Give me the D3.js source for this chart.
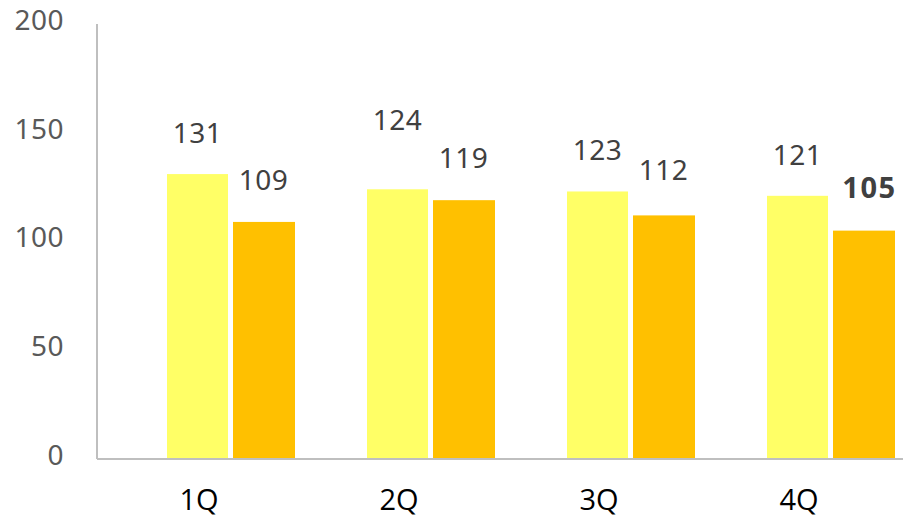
<!DOCTYPE html>
<html lang="en">
<head>
    <meta charset="UTF-8">
    <title>Quarterly bars</title>
    <script src="https://d3js.org/d3.v7.min.js"></script>
    <style type="text/css">
        body { margin: 0; background: #fff; }
        .tick-label {
            font-family: "Noto Sans", "Open Sans", sans-serif;
            font-size: 28px;
            letter-spacing: 0.5px;
            fill: #595959;
        }
        .value-label {
            font-family: "Noto Sans", "Open Sans", sans-serif;
            font-size: 28px;
            letter-spacing: 0.5px;
            fill: #404040;
        }
        .value-label.highlight {
            font-weight: bold;
            font-size: 29px;
            letter-spacing: 1.5px;
        }
        .cat-label {
            font-family: "Open Sans", "Noto Sans", sans-serif;
            font-size: 29px;
            fill: #000;
        }
        .axis-line {
            stroke: #bfbfbf;
            stroke-width: 2px;
        }
    </style>
</head>
<body>
    <script type="text/javascript">
        const quarters = ["1Q", "2Q", "3Q", "4Q"];
        const seriesA = [131, 124, 123, 121];
        const seriesB = [109, 119, 112, 105];
        const yTicks = [0, 50, 100, 150, 200];
        // how far each value label sits above its bar top (px)
        const labelOffsetA = [41, 69, 41, 41];
        const labelOffsetB = [42, 42, 45, 43];

        const width = 903;
        const height = 521;

        const svg = d3.select("body")
            .append("svg")
            .attr("width", width)
            .attr("height", height);

        const x = d3.scaleBand()
            .domain(quarters)
            .range([97, 897]);

        const y = d3.scaleLinear()
            .domain([0, 200])
            .range([459, 24]);

        // yellow bar is centred on the category, orange sits to its right
        const barW = 61;
        const xA = q => x(q) + x.bandwidth() / 2 - 30;
        const xB = q => x(q) + x.bandwidth() / 2 + 36;
        const last = quarters.length - 1;

        svg.selectAll("rect.a")
            .data(quarters)
            .join("rect")
            .attr("class", "a")
            .attr("x", d => xA(d))
            .attr("width", barW)
            .attr("y", (d, i) => y(seriesA[i]))
            .attr("height", (d, i) => y(0) - y(seriesA[i]))
            .attr("fill", "#ffff66");

        svg.selectAll("rect.b")
            .data(quarters)
            .join("rect")
            .attr("class", "b")
            .attr("x", d => xB(d))
            .attr("width", barW + 1)
            .attr("y", (d, i) => y(seriesB[i]))
            .attr("height", (d, i) => y(0) - y(seriesB[i]))
            .attr("fill", "#ffc000");

        // axes lines
        svg.append("line")
            .attr("class", "axis-line")
            .attr("x1", x.range()[0]).attr("x2", x.range()[0])
            .attr("y1", y(200)).attr("y2", y(0));

        svg.append("line")
            .attr("class", "axis-line")
            .attr("x1", x.range()[0]).attr("x2", width)
            .attr("y1", y(0)).attr("y2", y(0));

        svg.selectAll("text.tick-label")
            .data(yTicks)
            .join("text")
            .attr("class", "tick-label")
            .attr("x", 64)
            .attr("y", d => y(d) - 4)
            .attr("dy", "0.35em")
            .attr("text-anchor", "end")
            .text(d => d);

        svg.selectAll("text.cat-label")
            .data(quarters)
            .join("text")
            .attr("class", "cat-label")
            .attr("x", d => x(d) + x.bandwidth() / 2 + 2)
            .attr("y", 500)
            .attr("dy", "0.35em")
            .attr("text-anchor", "middle")
            .text(d => d);

        svg.selectAll("text.va")
            .data(quarters)
            .join("text")
            .attr("class", "value-label va")
            .attr("x", d => xA(d) + barW / 2)
            .attr("y", (d, i) => y(seriesA[i]) - labelOffsetA[i])
            .attr("dy", "0.35em")
            .attr("text-anchor", "middle")
            .text((d, i) => seriesA[i]);

        svg.selectAll("text.vb")
            .data(quarters)
            .join("text")
            .attr("class", (d, i) => i === last ? "value-label vb highlight" : "value-label vb")
            .attr("x", (d, i) => xB(d) + barW / 2 + (i === last ? 6 : 0))
            .attr("y", (d, i) => y(seriesB[i]) - labelOffsetB[i])
            .attr("dy", "0.35em")
            .attr("text-anchor", "middle")
            .text((d, i) => seriesB[i]);
    </script>
</body>
</html>
